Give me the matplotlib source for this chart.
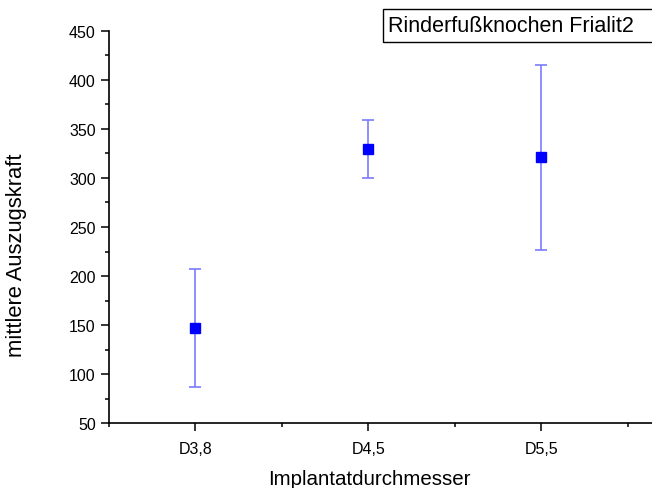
import matplotlib
matplotlib.use('Agg')
import matplotlib.pyplot as plt
from matplotlib.patches import Rectangle
from matplotlib.ticker import MultipleLocator, FixedLocator

# Data
categories = ['D3,8', 'D4,5', 'D5,5']
mean_force = [147, 329.5, 321]
error_force = [60.5, 30, 94]
legend_text = 'Rinderfußknochen Frialit2'

plt.rcParams['font.family'] = ['Liberation Sans', 'DejaVu Sans']

W, H = 652, 489
fig = plt.figure(figsize=(W / 100, H / 100), dpi=100)
ax = fig.add_axes([0.1672, 0.1323, 0.8328, 0.8029])

positions = list(range(1, len(categories) + 1))
ax.errorbar(positions, mean_force, yerr=error_force, fmt='none',
            ecolor='#7a7aff', elinewidth=1.2, capsize=4, capthick=1.2, zorder=2)
ax.plot(positions, mean_force, linestyle='none', marker='s', markersize=6.5,
        color='#0000ff', zorder=3)

ax.set_xlim(0.5, 3.64)
ax.set_ylim(50, 450)

ax.xaxis.set_major_locator(FixedLocator(positions))
ax.set_xticklabels(categories)
ax.xaxis.set_minor_locator(FixedLocator([0.5, 1.5, 2.5, 3.5]))
ax.yaxis.set_major_locator(MultipleLocator(50))
ax.yaxis.set_minor_locator(MultipleLocator(25))

ax.spines['top'].set_visible(False)
ax.spines['right'].set_visible(False)
for side in ('left', 'bottom'):
    ax.spines[side].set_linewidth(1.2)

ax.tick_params(axis='both', which='major', direction='out', length=6, width=1.1,
               labelsize=11.5, colors='black')
ax.tick_params(axis='both', which='minor', direction='out', length=3, width=1.1)
ax.tick_params(axis='x', which='major', pad=7)

ax.set_xlabel('Implantatdurchmesser', fontsize=14.8)
ax.xaxis.set_label_coords(0.4788, -0.116)
ax.set_ylabel('mittlere Auszugskraft', fontsize=15.8)
ax.yaxis.set_label_coords(-0.151, 0.43)

# legend-like title box, running off the right edge as in the reference
fig.patches.append(Rectangle((383 / W, 1 - 43 / H), 300 / W, 33 / H,
                             transform=fig.transFigure, facecolor='white',
                             edgecolor='black', linewidth=1.0))
fig.text(388 / W, 1 - 27 / H, legend_text, fontsize=15.5, va='center', ha='left')

fig.savefig('out.png', dpi=100)
